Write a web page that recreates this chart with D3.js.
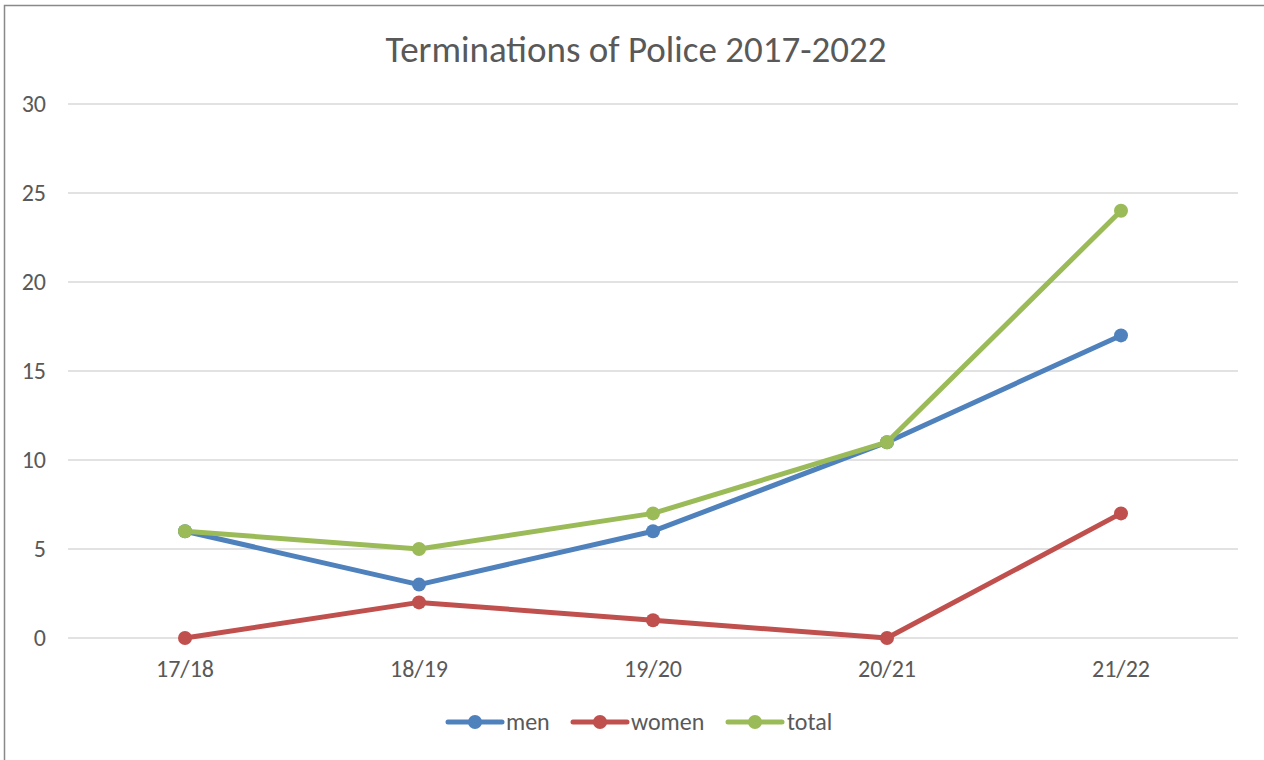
<!DOCTYPE html>
<html>
<head>
<meta charset="utf-8">
<script src="https://cdn.jsdelivr.net/npm/d3@7/dist/d3.min.js"></script>
<style>
  html, body { margin: 0; padding: 0; background: #fff; }
  svg { display: block; font-family: Carlito, "Open Sans", "Liberation Sans", sans-serif; }
</style>
</head>
<body>
<svg id="chart" width="1264" height="760"></svg>
<script>
// Chart data
const categories = ["17/18", "18/19", "19/20", "20/21", "21/22"];
const menValues = [6, 3, 6, 11, 17];
const womenValues = [0, 2, 1, 0, 7];
const totalValues = [6, 5, 7, 11, 24];
const yTicks = [0, 5, 10, 15, 20, 25, 30];
const seriesNames = ["men", "women", "total"];
const seriesColors = ["#4F81BD", "#C0504D", "#9BBB59"];

const series = [menValues, womenValues, totalValues].map((values, i) => ({
  name: seriesNames[i],
  color: seriesColors[i],
  values: values
}));

const FONT = 'Carlito, "Open Sans", "Liberation Sans", sans-serif';
const svg = d3.select("#chart");

// Outer chart frame
svg.append("rect")
  .attr("x", 4.5).attr("y", 5.5)
  .attr("width", 1300).attr("height", 800)
  .attr("fill", "#fff")
  .attr("stroke", "#898989")
  .attr("stroke-width", 1.5);

const plot = { left: 68, right: 1238, top: 104, bottom: 638 };

const x = d3.scaleBand()
  .domain(categories)
  .range([plot.left, plot.right]);

const y = d3.scaleLinear()
  .domain([0, 30])
  .range([plot.bottom, plot.top]);

// Horizontal gridlines
svg.append("g")
  .selectAll("line")
  .data(yTicks)
  .join("line")
  .attr("x1", plot.left).attr("x2", plot.right)
  .attr("y1", d => y(d)).attr("y2", d => y(d))
  .attr("stroke", "#D9D9D9")
  .attr("stroke-width", 1.5);

// Y axis labels
const yAxis = d3.axisLeft(y).tickValues(yTicks).tickSize(0).tickPadding(0);
const yG = svg.append("g")
  .attr("transform", `translate(${plot.left - 22},0)`)
  .call(yAxis);
yG.select(".domain").remove();
yG.selectAll("text")
  .attr("fill", "#595959")
  .attr("font-size", 24)
  .attr("dy", "0.33em")
  .attr("font-family", FONT);

// X axis labels
const xAxis = d3.axisBottom(x).tickSize(0).tickPadding(0);
const xG = svg.append("g")
  .attr("transform", `translate(0,${plot.bottom + 39})`)
  .call(xAxis);
xG.select(".domain").remove();
xG.selectAll("text")
  .attr("fill", "#595959")
  .attr("font-size", 24)
  .attr("dy", 0)
  .attr("font-family", FONT);

// Title
svg.append("text")
  .attr("x", 636).attr("y", 62)
  .attr("text-anchor", "middle")
  .attr("fill", "#595959")
  .attr("font-size", 37)
  .text("Terminations of Police 2017-2022");

// Lines and markers
const cx = d => x(d) + x.bandwidth() / 2;
const line = d3.line()
  .x((d, i) => cx(categories[i]))
  .y(d => y(d));

series.forEach(s => {
  const g = svg.append("g");
  g.append("path")
    .datum(s.values)
    .attr("d", line)
    .attr("fill", "none")
    .attr("stroke", s.color)
    .attr("stroke-width", 5)
    .attr("stroke-linejoin", "round")
    .attr("stroke-linecap", "round");
  g.selectAll("circle")
    .data(s.values)
    .join("circle")
    .attr("cx", (d, i) => cx(categories[i]))
    .attr("cy", d => y(d))
    .attr("r", 7)
    .attr("fill", s.color);
});

// Legend
const legendItems = [
  { x: 448, textX: 506 },
  { x: 573, textX: 631 },
  { x: 728, textX: 787 }
];
const legendY = 722;
series.forEach((s, i) => {
  const it = legendItems[i];
  const g = svg.append("g");
  g.append("line")
    .attr("x1", it.x).attr("x2", it.x + 54)
    .attr("y1", legendY).attr("y2", legendY)
    .attr("stroke", s.color)
    .attr("stroke-width", 5)
    .attr("stroke-linecap", "round");
  g.append("circle")
    .attr("cx", it.x + 27).attr("cy", legendY)
    .attr("r", 7)
    .attr("fill", s.color);
  g.append("text")
    .attr("x", it.textX).attr("y", legendY)
    .attr("dy", "0.33em")
    .attr("fill", "#595959")
    .attr("font-size", 24)
    .text(s.name);
});
</script>
</body>
</html>
